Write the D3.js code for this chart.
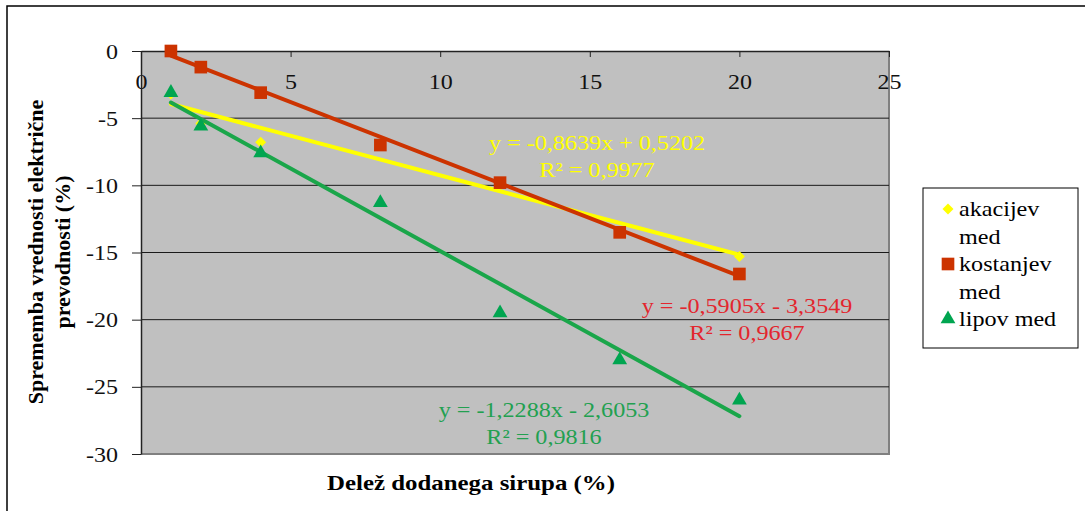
<!DOCTYPE html>
<html lang="sl">
<head>
<meta charset="UTF-8">
<title>Sprememba prevodnosti</title>
<script src="https://d3js.org/d3.v7.min.js"></script>
<style>
  body { margin: 0; background: #fff; }
  text { font-family: "Liberation Serif", "Times New Roman", serif; }
</style>
</head>
<body>
<div id="chart"></div>
<script>
// data
var xValues = [1, 2, 4, 8, 12, 16, 20];
var akacijev = [-3.2, -5.4, -6.8, -7.0, -9.8, -13.4, -15.3];
var kostanjev = [0, -1.2, -3.1, -7.0, -9.8, -13.5, -16.6];
var lipov = [-3.1, -5.6, -7.6, -11.3, -19.5, -23.0, -26.0];
// trendline coefficients [slope, intercept] as printed on the chart (labels are swapped in the original)
var trendKostanjev = [-0.8639, 0.5202];
var trendAkacijev = [-0.5905, -3.3549];
var trendLipov = [-1.2288, -2.6053];
var eqYellow = ["y = -0,8639x + 0,5202", "R² = 0,9977"];
var eqRed = ["y = -0,5905x - 3,3549", "R² = 0,9667"];
var eqGreen = ["y = -1,2288x - 2,6053", "R² = 0,9816"];
var xTicks = [0, 5, 10, 15, 20, 25];
var yTicks = [0, -5, -10, -15, -20, -25, -30];

var W = 1085, H = 511;
var plot = {left: 141, right: 889, top: 51, bottom: 454};
var SX = 1.2; // the original is stretched horizontally

var svg = d3.select("#chart").append("svg")
    .attr("width", W).attr("height", H);

// outer frame (only top and left are visible in the crop)
svg.append("path")
    .attr("d", "M7," + H + "V6H" + W)
    .attr("fill", "none").attr("stroke", "#000").attr("stroke-width", 1.5);

var x = d3.scaleLinear().domain([0, 25]).range([plot.left, plot.right]);
var y = d3.scaleLinear().domain([-30, 0]).range([plot.bottom, plot.top]);

// plot area
svg.append("rect")
    .attr("x", plot.left).attr("y", plot.top)
    .attr("width", plot.right - plot.left).attr("height", plot.bottom - plot.top)
    .attr("fill", "#c0c0c0");
svg.append("path")
    .attr("d", "M" + plot.left + "," + plot.bottom + "H" + plot.right + "V" + plot.top)
    .attr("fill", "none").attr("stroke", "#808080").attr("stroke-width", 2);

// gridlines
svg.append("g").selectAll("line")
    .data(yTicks.filter(function(d) { return d !== 0 && d !== -30; }))
    .enter().append("line")
    .attr("x1", plot.left).attr("x2", plot.right)
    .attr("y1", function(d) { return y(d); })
    .attr("y2", function(d) { return y(d); })
    .attr("stroke", "#1a1a1a").attr("stroke-width", 1);

// x axis sits on y = 0 at the top, ticks pointing into the plot
var xAxis = svg.append("g")
    .attr("transform", "translate(0," + y(0) + ")")
    .call(d3.axisBottom(x).tickValues(xTicks).tickSizeInner(6).tickSizeOuter(0).tickPadding(18));
xAxis.select(".domain").attr("stroke", "#222").attr("stroke-width", 1.5);
xAxis.selectAll("line").attr("stroke", "#222");
xAxis.selectAll("text")
    .attr("font-size", 20).attr("fill", "#111")
    .attr("font-family", "Liberation Serif")
    .attr("transform", "scale(" + SX + ",1)");

var yAxis = svg.append("g")
    .attr("transform", "translate(" + plot.left + ",0)")
    .call(d3.axisLeft(y).tickValues(yTicks).tickSizeInner(9).tickSizeOuter(0)
        .tickFormat(function(d) { return d === 0 ? "0" : "-" + Math.abs(d); }));
yAxis.select(".domain").attr("stroke", "#222").attr("stroke-width", 1.5);
yAxis.selectAll("line").attr("stroke", "#222");
yAxis.selectAll("text")
    .attr("font-size", 20).attr("fill", "#111")
    .attr("font-family", "Liberation Serif")
    .attr("x", -23 / SX).attr("dy", "0.35em")
    .attr("transform", "scale(" + SX + ",1)");

// markers
var diamond = d3.symbol().type(d3.symbolSquare).size(60); // rotated 45deg below
var square = d3.symbol().type(d3.symbolSquare).size(160);
var triangle = d3.symbol().type(d3.symbolTriangle).size(95);

function drawMarkers(values, sym, color, rot) {
    svg.append("g").selectAll("path")
        .data(values).enter().append("path")
        .attr("d", sym)
        .attr("transform", function(d, i) {
            return "translate(" + x(xValues[i]) + "," + y(d) + ")" + (rot ? " rotate(45)" : "");
        })
        .attr("fill", color);
}

drawMarkers(akacijev, diamond, "#ffff00", true);

// trendlines from first to last x
function drawTrend(coef, color) {
    var xs = [xValues[0], xValues[xValues.length - 1]];
    svg.append("path")
        .datum(xs)
        .attr("d", d3.line()
            .x(function(d) { return x(d); })
            .y(function(d) { return y(coef[0] * d + coef[1]); }))
        .attr("fill", "none").attr("stroke", color)
        .attr("stroke-width", 4).attr("stroke-linecap", "round");
}
drawTrend(trendAkacijev, "#ffff00");
drawTrend(trendKostanjev, "#cc3300");
drawTrend(trendLipov, "#1aa64a");

drawMarkers(kostanjev, square, "#cc3300");
drawMarkers(lipov, triangle, "#00a550");

// trendline equations
function drawLabel(lines, cx, cy, color) {
    var g = svg.append("g").attr("transform", "translate(" + cx + "," + cy + ") scale(1.15,1)");
    g.selectAll("text").data(lines).enter().append("text")
        .attr("y", function(d, i) { return i * 27; })
        .attr("dy", "0.35em")
        .attr("text-anchor", "middle")
        .attr("font-size", 21)
        .attr("fill", color)
        .text(function(d) { return d; });
}
drawLabel(eqYellow, 597, 143, "#ffff00");
drawLabel(eqRed, 747, 306, "#e3262e");
drawLabel(eqGreen, 544, 410, "#22a050");

// axis titles
svg.append("text")
    .attr("transform", "translate(471,490) scale(1.13,1)")
    .attr("text-anchor", "middle")
    .attr("font-size", 22).attr("font-weight", "bold")
    .text("Delež dodanega sirupa (%)");

var yTitle = ["Sprememba vrednosti električne", "prevodnosti (%)"];
svg.append("g").selectAll("text").data(yTitle).enter().append("text")
    .attr("transform", function(d, i) {
        return "translate(" + (43 + i * 27) + ",252) rotate(-90)";
    })
    .attr("text-anchor", "middle")
    .attr("font-size", 22).attr("font-weight", "bold")
    .text(function(d) { return d; });

// legend
var legend = svg.append("g");
legend.append("rect")
    .attr("x", 923).attr("y", 188).attr("width", 155).attr("height", 160)
    .attr("fill", "#fff").attr("stroke", "#000").attr("stroke-width", 1);

var legendLines = [
    {text: "akacijev", sym: diamond, color: "#ffff00", rot: true},
    {text: "med"},
    {text: "kostanjev", sym: square, color: "#cc3300"},
    {text: "med"},
    {text: "lipov med", sym: triangle, color: "#00a550"}
];
legendLines.forEach(function(d, i) {
    var by = 216 + i * 27.5;
    if (d.sym) {
        legend.append("path")
            .attr("d", d.sym)
            .attr("transform", "translate(948," + (by - 7) + ")" + (d.rot ? " rotate(45)" : ""))
            .attr("fill", d.color);
    }
    legend.append("text")
        .attr("transform", "translate(959," + by + ") scale(1.15,1)")
        .attr("font-size", 21)
        .text(d.text);
});
</script>
</body>
</html>
